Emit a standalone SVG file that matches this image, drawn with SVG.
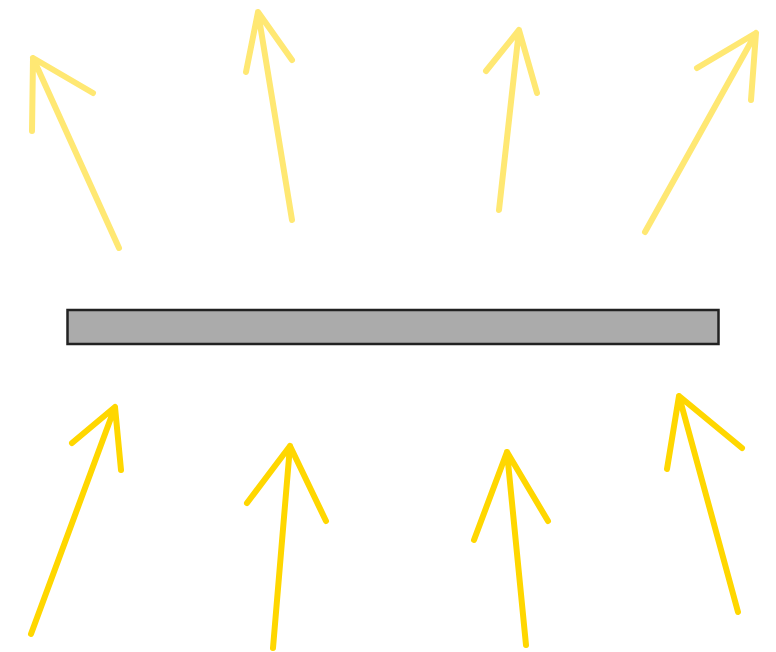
<svg xmlns="http://www.w3.org/2000/svg" width="776" height="652" viewBox="0 0 776 652">
<style>
.up{fill:none;stroke:#ffe873;stroke-width:6;stroke-linecap:round;stroke-linejoin:round}
.dn{fill:none;stroke:#ffd700;stroke-width:6;stroke-linecap:round;stroke-linejoin:round}
</style>
<rect width="776" height="652" fill="#ffffff"/>
<g id="plate">
<rect x="67.5" y="310" width="651" height="34" fill="#ababab" stroke="#222222" stroke-width="2.5"/>
</g>
<g id="connectors">
<path class="up" d="M119,248 L33,58 M32,131 L33,58 L93,93"/>
<path class="up" d="M292,220 L258,12 M246,72 L258,12 L292,60"/>
<path class="up" d="M499,210 L519,30 M486,71 L519,30 L537,93"/>
<path class="up" d="M645,232 L756,33 M697,68 L756,33 L751,100"/>
<path class="dn" d="M31,634 L115,407 M72,443 L115,407 L121,470"/>
<path class="dn" d="M273,648 L290,446 M247,503 L290,446 L326,521"/>
<path class="dn" d="M526,645 L507,452 M474,540 L507,452 L548,521"/>
<path class="dn" d="M738,612 L679,396 M667,469 L679,396 L742,448"/>
</g>
</svg>
